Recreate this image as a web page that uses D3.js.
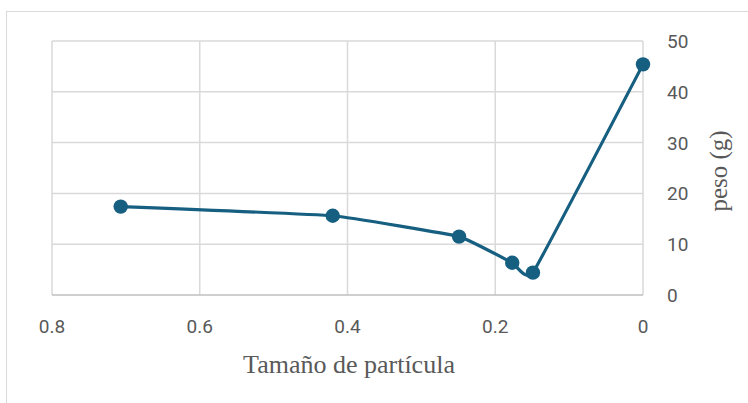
<!DOCTYPE html>
<html><head><meta charset="utf-8">
<script src="https://cdn.jsdelivr.net/npm/d3@7"></script>
<style>body{margin:0;background:#fff}svg{display:block}</style>
</head><body>
<script>
const sizes = [0.707, 0.42, 0.249, 0.177, 0.149, 0];
const weights = [17.4, 15.6, 11.5, 6.35, 4.4, 45.4];
const xTicks = [0.8, 0.6, 0.4, 0.2, 0];
const yTicks = [0, 10, 20, 30, 40, 50];
const xTitle = "Tamaño de partícula";
const yTitle = "peso (g)";

(function () {
const W = 748, H = 403;
const svg = d3.select("body").append("svg").attr("width", W).attr("height", H);
svg.append("rect").attr("x", 6.5).attr("y", 11.5).attr("width", 760).attr("height", 420)
  .attr("fill", "none").attr("stroke", "#d9d9d9").attr("stroke-width", 1);

const pL = 52, pR = 643, pT = 41, pB = 295;
const x = d3.scaleLinear().domain([0.8, 0]).range([pL, pR]);
const y = d3.scaleLinear().domain([0, 50]).range([pB, pT]);

const g = svg.append("g");
g.selectAll("line.v").data(xTicks).join("line").attr("class", "v")
  .attr("x1", d => x(d)).attr("x2", d => x(d)).attr("y1", pT).attr("y2", pB)
  .attr("stroke", "#d9d9d9").attr("stroke-width", 1.5);
g.selectAll("line.h").data(yTicks).join("line").attr("class", "h")
  .attr("x1", pL).attr("x2", pR).attr("y1", d => y(d)).attr("y2", d => y(d))
  .attr("stroke", d => d === 0 ? "#bfbfbf" : "#d9d9d9").attr("stroke-width", 1.5);

const font = "Roboto, 'Noto Sans', sans-serif";
g.selectAll("text.xt").data(xTicks).join("text").attr("class", "xt")
  .attr("x", d => x(d)).attr("y", 333).attr("text-anchor", "middle")
  .attr("font-family", font).attr("font-size", 19).attr("fill", "#595959")
  .text(d => d3.format("")(d));
g.selectAll("text.yt").data(yTicks).join("text").attr("class", "yt")
  .attr("x", 667).attr("y", d => y(d) + 7).attr("font-family", font).attr("font-size", 19).attr("fill", "#595959")
  .text(d => d);

svg.append("text").attr("x", 349).attr("y", 373).attr("text-anchor", "middle")
  .attr("font-family", "'Liberation Serif', serif").attr("font-size", 26).attr("fill", "#595959")
  .text(xTitle);
svg.append("text").attr("transform", "translate(727,171) rotate(-90)").attr("text-anchor", "middle")
  .attr("font-family", "'Liberation Serif', serif").attr("font-size", 25).attr("fill", "#595959")
  .text(yTitle);

const pts = sizes.map((s, i) => [s, weights[i]]);
const line = d3.line().x(d => x(d[0])).y(d => y(d[1])).curve(d3.curveCardinal.tension(0.7));
const color = "#165f81";
svg.append("path").attr("d", line(pts)).attr("fill", "none").attr("stroke", color).attr("stroke-width", 3.2);
svg.selectAll("circle").data(pts).join("circle")
  .attr("cx", d => x(d[0])).attr("cy", d => y(d[1])).attr("r", 7.2).attr("fill", color);
})();
</script>
</body></html>
